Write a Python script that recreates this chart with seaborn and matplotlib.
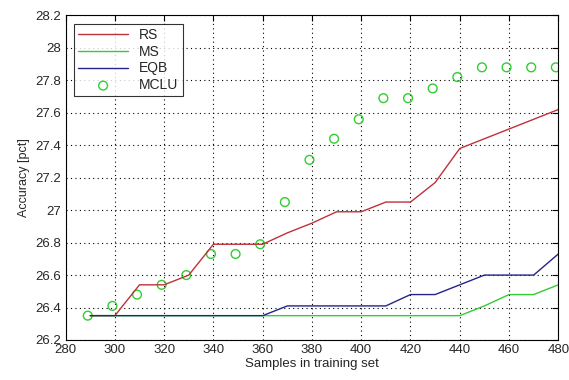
import matplotlib
matplotlib.use("Agg")
import matplotlib.pyplot as plt
import seaborn as sns
import pandas as pd

samples = [290, 300, 310, 320, 330, 340, 350, 360, 370, 380,
           390, 400, 410, 420, 430, 440, 450, 460, 470, 480]
rs = [26.35, 26.35, 26.54, 26.54, 26.60, 26.79, 26.79, 26.79, 26.86, 26.92,
      26.99, 26.99, 27.05, 27.05, 27.17, 27.38, 27.44, 27.50, 27.56, 27.62]
ms = [26.35, 26.35, 26.35, 26.35, 26.35, 26.35, 26.35, 26.35, 26.35, 26.35,
      26.35, 26.35, 26.35, 26.35, 26.35, 26.35, 26.41, 26.48, 26.48, 26.54]
eqb = [26.35, 26.35, 26.35, 26.35, 26.35, 26.35, 26.35, 26.35, 26.41, 26.41,
       26.41, 26.41, 26.41, 26.48, 26.48, 26.54, 26.60, 26.60, 26.60, 26.73]
mclu_x = [289, 299, 309, 319, 329, 339, 349, 359, 369, 379,
          389, 399, 409, 419, 429, 439, 449, 459, 469, 479]
mclu = [26.35, 26.41, 26.48, 26.54, 26.60, 26.73, 26.73, 26.79, 27.05, 27.31,
        27.44, 27.56, 27.69, 27.69, 27.75, 27.82, 27.88, 27.88, 27.88, 27.88]
x_ticks = [280, 300, 320, 340, 360, 380, 400, 420, 440, 460, 480]
y_ticks = [26.2, 26.4, 26.6, 26.8, 27.0, 27.2, 27.4, 27.6, 27.8, 28.0, 28.2]
y_tick_labels = ["26.2", "26.4", "26.6", "26.8", "27", "27.2", "27.4", "27.6", "27.8", "28", "28.2"]

sns.set_style("white")
plt.rcParams['font.family'] = ['Liberation Sans', 'DejaVu Sans']

df = pd.DataFrame({"x": samples, "RS": rs, "MS": ms, "EQB": eqb})
dm = pd.DataFrame({"x": mclu_x, "MCLU": mclu})

fig = plt.figure(figsize=(5.69, 3.80), dpi=100)
ax = fig.add_axes([65.6 / 569, 1 - 340 / 380, (558.3 - 65.6) / 569, (340 - 15.4) / 380])

sns.lineplot(data=df, x="x", y="RS", ax=ax, color="#c0303a", linewidth=1.0, label="RS")
sns.lineplot(data=df, x="x", y="MS", ax=ax, color="#33cc33", linewidth=1.0, label="MS")
sns.lineplot(data=df, x="x", y="EQB", ax=ax, color="#24248a", linewidth=1.0, label="EQB")
sns.scatterplot(data=dm, x="x", y="MCLU", ax=ax, marker="o", s=40, facecolor="none",
                edgecolor="#33cc33", linewidth=1.0, label="MCLU")

ax.set_xlim(280, 480)
ax.set_ylim(26.2, 28.2)
ax.set_xticks(x_ticks)
ax.set_yticks(y_ticks)
ax.set_yticklabels(y_tick_labels)
ax.tick_params(direction="in", top=True, right=True, labelsize=9.5, length=4, color="black", pad=3)
ax.grid(True, color="black", linestyle=(0, (1, 3)), linewidth=0.8)
for s in ax.spines.values():
    s.set_color("black")
    s.set_linewidth(0.8)
ax.set_xlabel("Samples in training set", fontsize=9.5, labelpad=1)
ax.set_ylabel("Accuracy [pct]", fontsize=9, labelpad=4)

leg = ax.legend(loc="upper left", fontsize=10, frameon=True, fancybox=False, shadow=False,
                handlelength=3.6, borderaxespad=0.6, labelspacing=0.2, borderpad=0.3,
                handletextpad=0.8, markerscale=1.0)
leg.get_frame().set_edgecolor("black")
leg.get_frame().set_linewidth(0.8)

fig.savefig("out.png", dpi=100, facecolor="white")
